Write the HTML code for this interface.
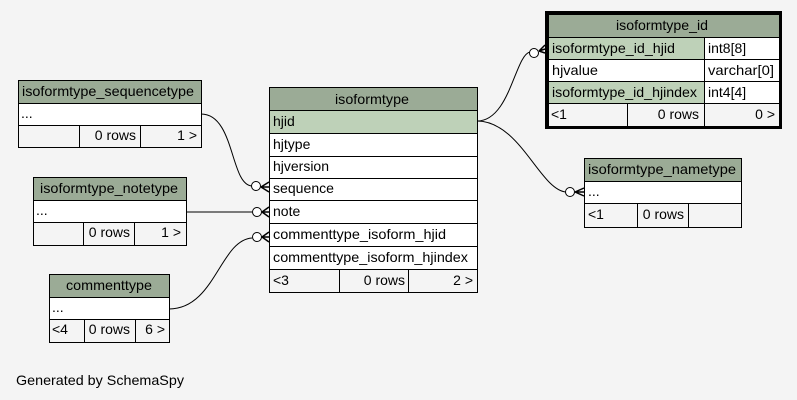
<!DOCTYPE html>
<html><head><meta charset="utf-8"><style>
html,body{margin:0;padding:0;background:#f4f4f4;}
svg{display:block;font-family:"Liberation Sans",Arial,sans-serif;font-size:14px;}
</style></head><body>
<svg width="797" height="400" viewBox="0 0 797 400" xmlns="http://www.w3.org/2000/svg">
<rect width="797" height="400" fill="#f4f4f4"/>
<g fill="none" stroke="#000" stroke-width="1">
<path d="M477,121 C510,121 515,55 530,52"/>
<path d="M477,121 C520,121 540,190 566,192"/>
<path d="M201,114 C235,114 230,185 252,186"/>
<path d="M186,212 L252,212"/>
<path d="M169,309 C215,309 220,240 252,238"/>
</g>
<g fill="#fff" stroke="#000">
<circle cx="534" cy="53" r="4.5"/>
<circle cx="570" cy="192" r="4.5"/>
<circle cx="256" cy="186" r="4.5"/>
<circle cx="257" cy="212" r="4.5"/>
<circle cx="257" cy="237" r="4.5"/>
</g>
<g stroke="#000" stroke-width="1.5" fill="none">
<path d="M539,51 L545,45 M539,51 L545,49 M539,51 L545,53"/>
<path d="M575,192 L584,188 M575,192 L584,192 M575,192 L584,196"/>
<path d="M261,187 L269,182 M261,187 L269,187 M261,187 L269,192"/>
<path d="M262,212 L269,207 M262,212 L269,212 M262,212 L269,217"/>
<path d="M262,237 L269,232 M262,237 L269,237 M262,237 L269,242"/>
</g>

<!-- isoformtype -->
<g stroke="#000" stroke-width="1">
<rect x="269.5" y="87.5" width="208" height="23" fill="#9bab96"/>
<rect x="269.5" y="110.5" width="208" height="23" fill="#bed1b8"/>
<rect x="269.5" y="133.5" width="208" height="23" fill="#fff"/>
<rect x="269.5" y="156.5" width="208" height="22" fill="#fff"/>
<rect x="269.5" y="178.5" width="208" height="22" fill="#fff"/>
<rect x="269.5" y="200.5" width="208" height="23" fill="#fff"/>
<rect x="269.5" y="223.5" width="208" height="23" fill="#fff"/>
<rect x="269.5" y="246.5" width="208" height="23" fill="#fff"/>
<rect x="269.5" y="269.5" width="208" height="23" fill="#f4f4f4"/>
<path d="M339.5,269.5 V292.5 M408.5,269.5 V292.5"/>
</g>
<g fill="#000">
<text x="335" y="104" textLength="74" lengthAdjust="spacingAndGlyphs">isoformtype</text>
<text x="273" y="126">hjid</text>
<text x="273" y="149">hjtype</text>
<text x="273" y="171" textLength="56" lengthAdjust="spacingAndGlyphs">hjversion</text>
<text x="273" y="193" textLength="61" lengthAdjust="spacingAndGlyphs">sequence</text>
<text x="273" y="216">note</text>
<text x="273" y="239" textLength="173" lengthAdjust="spacingAndGlyphs">commenttype_isoform_hjid</text>
<text x="273" y="262" textLength="195" lengthAdjust="spacingAndGlyphs">commenttype_isoform_hjindex</text>
<text x="273" y="285">&lt;3</text>
<text x="405" y="285" text-anchor="end">0 rows</text>
<text x="473" y="285" text-anchor="end">2 &gt;</text>
</g>

<!-- isoformtype_id -->
<rect x="546.5" y="12.5" width="234" height="115" fill="none" stroke="#000" stroke-width="3"/>
<g stroke="#000" stroke-width="1">
<rect x="548.5" y="14.5" width="231" height="23" fill="#9bab96"/>
<rect x="548.5" y="37.5" width="156" height="22" fill="#bed1b8"/>
<rect x="704.5" y="37.5" width="75" height="22" fill="#fff"/>
<rect x="548.5" y="59.5" width="156" height="22" fill="#fff"/>
<rect x="704.5" y="59.5" width="75" height="22" fill="#fff"/>
<rect x="548.5" y="81.5" width="156" height="22" fill="#bed1b8"/>
<rect x="704.5" y="81.5" width="75" height="22" fill="#fff"/>
<rect x="548.5" y="103.5" width="231" height="23" fill="#f4f4f4"/>
<path d="M627.5,103.5 V126.5 M704.5,103.5 V126.5"/>
</g>
<g fill="#000">
<text x="616" y="30" textLength="92" lengthAdjust="spacingAndGlyphs">isoformtype_id</text>
<text x="552" y="53" textLength="123" lengthAdjust="spacingAndGlyphs">isoformtype_id_hjid</text>
<text x="708" y="53">int8[8]</text>
<text x="552" y="75" textLength="46" lengthAdjust="spacingAndGlyphs">hjvalue</text>
<text x="708" y="75" textLength="66" lengthAdjust="spacingAndGlyphs">varchar[0]</text>
<text x="552" y="97" textLength="145" lengthAdjust="spacingAndGlyphs">isoformtype_id_hjindex</text>
<text x="708" y="97">int4[4]</text>
<text x="551" y="119">&lt;1</text>
<text x="699" y="119" text-anchor="end">0 rows</text>
<text x="775" y="119" text-anchor="end">0 &gt;</text>
</g>

<!-- sequencetype -->
<g stroke="#000" stroke-width="1">
<rect x="18.5" y="80.5" width="183" height="23" fill="#9bab96"/>
<rect x="18.5" y="103.5" width="183" height="22" fill="#fff"/>
<rect x="18.5" y="125.5" width="183" height="22" fill="#f4f4f4"/>
<path d="M79.5,125.5 V147.5 M140.5,125.5 V147.5"/>
</g>
<g fill="#000">
<text x="22" y="96" textLength="172" lengthAdjust="spacingAndGlyphs">isoformtype_sequencetype</text>
<text x="21" y="118">...</text>
<text x="136" y="140" text-anchor="end">0 rows</text>
<text x="197" y="140" text-anchor="end">1 &gt;</text>
</g>

<!-- notetype -->
<g stroke="#000" stroke-width="1">
<rect x="33.5" y="177.5" width="153" height="23" fill="#9bab96"/>
<rect x="33.5" y="200.5" width="153" height="22" fill="#fff"/>
<rect x="33.5" y="222.5" width="153" height="23" fill="#f4f4f4"/>
<path d="M83.5,222.5 V245.5 M134.5,222.5 V245.5"/>
</g>
<g fill="#000">
<text x="40" y="193" textLength="138" lengthAdjust="spacingAndGlyphs">isoformtype_notetype</text>
<text x="36" y="215">...</text>
<text x="130" y="237" text-anchor="end">0 rows</text>
<text x="181" y="237" text-anchor="end">1 &gt;</text>
</g>

<!-- commenttype -->
<g stroke="#000" stroke-width="1">
<rect x="49.5" y="274.5" width="120" height="23" fill="#9bab96"/>
<rect x="49.5" y="297.5" width="120" height="22" fill="#fff"/>
<rect x="49.5" y="319.5" width="120" height="23" fill="#f4f4f4"/>
<path d="M84.5,319.5 V342.5 M135.5,319.5 V342.5"/>
</g>
<g fill="#000">
<text x="66" y="290" textLength="86" lengthAdjust="spacingAndGlyphs">commenttype</text>
<text x="52" y="312">...</text>
<text x="52" y="334">&lt;4</text>
<text x="130" y="334" text-anchor="end">0 rows</text>
<text x="165" y="334" text-anchor="end">6 &gt;</text>
</g>

<!-- nametype -->
<g stroke="#000" stroke-width="1">
<rect x="584.5" y="158.5" width="157" height="23" fill="#9bab96"/>
<rect x="584.5" y="181.5" width="157" height="22" fill="#fff"/>
<rect x="584.5" y="203.5" width="157" height="24" fill="#f4f4f4"/>
<path d="M637.5,203.5 V227.5 M688.5,203.5 V227.5"/>
</g>
<g fill="#000">
<text x="588" y="174" textLength="148" lengthAdjust="spacingAndGlyphs">isoformtype_nametype</text>
<text x="588" y="196">...</text>
<text x="588" y="219">&lt;1</text>
<text x="684" y="219" text-anchor="end">0 rows</text>
</g>

<text x="16" y="385" fill="#000" textLength="168" lengthAdjust="spacingAndGlyphs">Generated by SchemaSpy</text>
</svg>
</body></html>
